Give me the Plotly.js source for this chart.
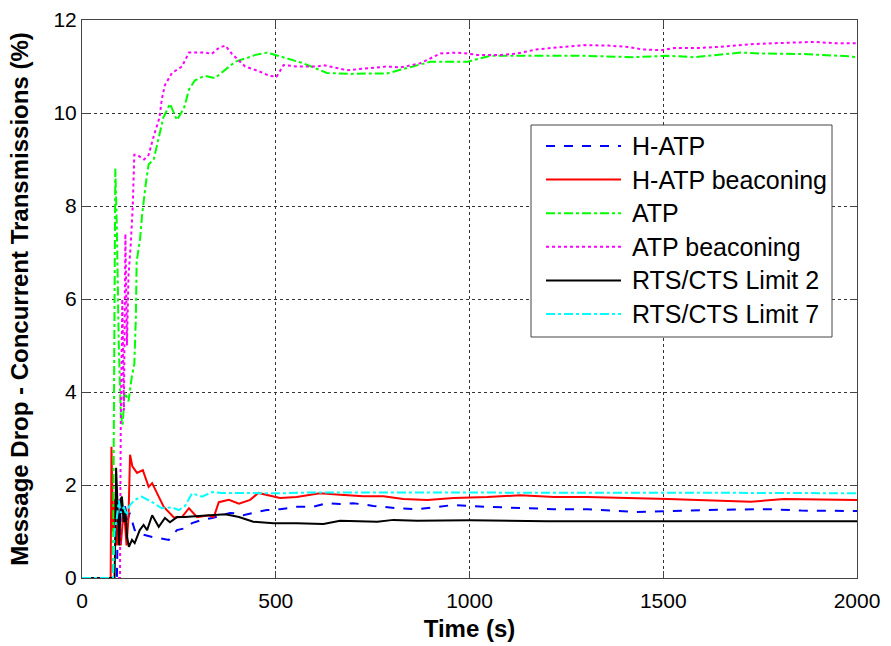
<!DOCTYPE html>
<html>
<head>
<meta charset="utf-8">
<script src="https://cdn.plot.ly/plotly-3.0.1.min.js"></script>
<style>html,body{margin:0;padding:0;background:#fff;}#chart{width:891px;height:646px;}</style>
</head>
<body>
<div id="chart"></div>
<script>
// H-ATP (blue dashed)
const hatpT = [0, 90, 92, 96, 100, 104, 108, 111, 116, 123, 130, 136, 150, 162, 181, 198, 224, 245, 266, 284, 310, 336, 361, 382, 405, 416, 451, 477, 511, 554, 596, 632, 666, 700, 752, 813, 865, 959, 1046, 1131, 1218, 1304, 1424, 1597, 1770, 1856, 2000];
const hatpY = [0, 0, 1.0, 1.68, 1.2, 1.6, 1.3, 1.55, 1.2, 1.4, 1.2, 1.03, 0.95, 0.92, 0.88, 0.86, 0.82, 1.03, 1.07, 1.18, 1.25, 1.29, 1.35, 1.4, 1.38, 1.35, 1.42, 1.46, 1.48, 1.53, 1.53, 1.61, 1.59, 1.61, 1.55, 1.5, 1.48, 1.57, 1.53, 1.5, 1.48, 1.48, 1.42, 1.46, 1.48, 1.45, 1.44];

// H-ATP beaconing (red solid)
const hatpbT = [0, 74, 76, 80, 85, 90, 95, 100, 108, 115, 120, 124, 130, 142, 157, 172, 181, 211, 237, 258, 276, 297, 328, 340, 353, 379, 405, 434, 455, 477, 511, 554, 614, 666, 726, 778, 829, 891, 959, 1046, 1131, 1218, 1304, 1512, 1683, 1726, 1812, 2000];
const hatpbY = [0, 0, 2.82, 1.0, 1.7, 0.7, 1.2, 0.7, 1.5, 0.7, 1.3, 2.65, 2.4, 2.26, 2.32, 1.96, 2.04, 1.53, 1.3, 1.31, 1.5, 1.31, 1.35, 1.31, 1.63, 1.68, 1.6, 1.68, 1.83, 1.79, 1.72, 1.74, 1.82, 1.79, 1.76, 1.76, 1.7, 1.68, 1.72, 1.74, 1.78, 1.74, 1.74, 1.7, 1.64, 1.64, 1.7, 1.68];

// ATP (green dash-dot)
const atpT = [0, 80, 84, 86, 90, 95, 100, 105, 110, 120, 128, 135, 139, 141, 150, 155, 165, 172, 185, 198, 210, 227, 245, 263, 276, 291, 317, 343, 366, 395, 431, 448, 478, 498, 520, 571, 632, 692, 735, 787, 839, 899, 943, 994, 1054, 1166, 1295, 1424, 1512, 1580, 1700, 1752, 1812, 1856, 1977, 2000];
const atpY = [0, 0, 6.0, 8.8, 7.5, 5.0, 3.5, 3.3, 4.0, 3.8, 4.3, 4.6, 5.6, 6.8, 7.3, 7.8, 8.5, 8.9, 9.0, 9.5, 9.9, 10.2, 9.85, 10.1, 10.5, 10.7, 10.8, 10.75, 10.9, 11.1, 11.2, 11.25, 11.3, 11.25, 11.2, 11.07, 10.86, 10.84, 10.85, 10.85, 10.97, 11.1, 11.1, 11.1, 11.23, 11.23, 11.23, 11.2, 11.23, 11.2, 11.3, 11.28, 11.27, 11.27, 11.22, 11.2];

// ATP beaconing (magenta dotted)
const atpbT = [0, 98, 100, 104, 108, 112, 116, 120, 126, 131, 135, 142, 160, 172, 185, 200, 206, 214, 232, 258, 276, 302, 318, 335, 353, 370, 387, 421, 456, 483, 502, 520, 555, 607, 623, 684, 744, 787, 822, 873, 925, 968, 994, 1019, 1080, 1123, 1175, 1235, 1295, 1358, 1409, 1443, 1494, 1529, 1597, 1640, 1726, 1786, 1890, 1942, 2000];
const atpbY = [0, 0, 3.2, 6.0, 3.6, 7.4, 5.0, 6.5, 7.2, 8.0, 9.1, 9.1, 9.0, 9.1, 9.5, 9.9, 10.3, 10.6, 10.86, 11.0, 11.3, 11.3, 11.3, 11.27, 11.4, 11.45, 11.27, 11.0, 10.9, 10.8, 10.78, 11.03, 11.0, 11.0, 11.03, 10.92, 10.96, 11.0, 10.98, 11.07, 11.28, 11.3, 11.28, 11.25, 11.25, 11.28, 11.37, 11.42, 11.46, 11.45, 11.42, 11.37, 11.35, 11.4, 11.4, 11.42, 11.48, 11.5, 11.53, 11.5, 11.5];

// RTS/CTS Limit 2 (black solid)
const rts2T = [0, 84, 86, 88, 92, 96, 100, 103, 108, 112, 116, 121, 129, 136, 149, 159, 168, 181, 188, 198, 214, 227, 245, 266, 292, 328, 370, 405, 442, 494, 554, 623, 666, 762, 804, 865, 1000, 1200, 1400, 1600, 1800, 2000];
const rts2Y = [0, 0, 1.0, 2.37, 1.5, 0.7, 1.7, 1.75, 1.2, 1.5, 0.9, 0.67, 0.82, 0.75, 1.03, 1.14, 1.03, 1.35, 1.25, 1.1, 1.29, 1.2, 1.31, 1.31, 1.33, 1.35, 1.37, 1.31, 1.21, 1.18, 1.18, 1.16, 1.23, 1.21, 1.25, 1.23, 1.24, 1.22, 1.22, 1.23, 1.22, 1.22];

// RTS/CTS Limit 7 (cyan dash-dot)
const rts7T = [0, 80, 84, 90, 95, 100, 108, 115, 122, 136, 154, 181, 206, 232, 250, 266, 284, 310, 336, 361, 405, 500, 600, 700, 850, 1000, 1150, 1300, 1450, 1600, 1800, 2000];
const rts7Y = [0, 0, 1.0, 1.3, 1.67, 1.4, 1.53, 1.35, 1.55, 1.68, 1.75, 1.63, 1.5, 1.52, 1.46, 1.55, 1.82, 1.75, 1.85, 1.83, 1.83, 1.82, 1.84, 1.84, 1.83, 1.83, 1.84, 1.84, 1.83, 1.83, 1.83, 1.82];

const seriesNames = ['H-ATP', 'H-ATP beaconing', 'ATP', 'ATP beaconing', 'RTS/CTS Limit 2', 'RTS/CTS Limit 7'];
const xTicks = [0, 500, 1000, 1500, 2000];
const yTicks = [0, 2, 4, 6, 8, 10, 12];

const styles = [
  {color: '#0000ff', dash: 'dash'},
  {color: '#ff0000', dash: 'solid'},
  {color: '#00ff00', dash: 'dashdot'},
  {color: '#ff00ff', dash: 'dot'},
  {color: '#000000', dash: 'solid'},
  {color: '#00ffff', dash: 'dashdot'}
];
const xs = [hatpT, hatpbT, atpT, atpbT, rts2T, rts7T];
const ys = [hatpY, hatpbY, atpY, atpbY, rts2Y, rts7Y];

const traces = seriesNames.map((n, i) => ({
  x: xs[i], y: ys[i], name: n, type: 'scatter', mode: 'lines',
  line: {color: styles[i].color, dash: styles[i].dash, width: 2}
}));

// plot area geometry (pixels) for legend placement
const W = 891, H = 646, ML = 82, MR = 34, MT = 20, MB = 68;
const pw = W - ML - MR, ph = H - MT - MB;
const px2paper = px => (px - ML) / pw;
const py2paper = py => (H - MB - py) / ph;

const font = {family: 'Liberation Sans, Arial, sans-serif', color: '#000'};
const shapes = [{
  type: 'rect', xref: 'paper', yref: 'paper',
  x0: px2paper(531), x1: px2paper(832), y0: py2paper(337), y1: py2paper(125),
  line: {color: '#444', width: 1}, fillcolor: '#fff', layer: 'above'
}];
const annotations = [];
seriesNames.forEach((n, i) => {
  const rowY = 146 + i * 33.6;
  shapes.push({
    type: 'line', xref: 'paper', yref: 'paper',
    x0: px2paper(546), x1: px2paper(621), y0: py2paper(rowY), y1: py2paper(rowY),
    line: {color: styles[i].color, dash: styles[i].dash, width: 2}, layer: 'above'
  });
  annotations.push({
    xref: 'paper', yref: 'paper', x: px2paper(630), y: py2paper(rowY),
    xanchor: 'left', yanchor: 'middle', text: n, showarrow: false,
    font: Object.assign({size: 25}, font)
  });
});

const layout = {
  width: W, height: H,
  margin: {l: ML, r: MR, t: MT, b: MB},
  paper_bgcolor: '#fff', plot_bgcolor: '#fff',
  font: Object.assign({size: 20}, font),
  showlegend: false,
  xaxis: {
    range: [0, 2000], tickvals: xTicks, ticktext: xTicks.map(String),
    showline: true, linecolor: '#444', linewidth: 1, mirror: 'ticks',
    ticks: 'inside', ticklen: 7, tickcolor: '#444',
    showgrid: true, gridcolor: '#333', griddash: 'dot', gridwidth: 1,
    zeroline: false, ticklabelstandoff: 4,
    tickfont: Object.assign({size: 21}, font),
    title: {text: '<b>Time (s)</b>', font: Object.assign({size: 24}, font), standoff: 8}
  },
  yaxis: {
    range: [0, 12], tickvals: yTicks, ticktext: yTicks.map(String),
    showline: true, linecolor: '#444', linewidth: 1, mirror: 'ticks',
    ticks: 'inside', ticklen: 7, tickcolor: '#444',
    showgrid: true, gridcolor: '#333', griddash: 'dot', gridwidth: 1,
    zeroline: false,
    tickfont: Object.assign({size: 21}, font),
    title: {text: '<b>Message Drop - Concurrent Transmissions (%)</b>', font: Object.assign({size: 24}, font), standoff: 18}
  },
  shapes: shapes,
  annotations: annotations
};

Plotly.newPlot('chart', traces, layout, {displayModeBar: false, staticPlot: true});
</script>
</body>
</html>
